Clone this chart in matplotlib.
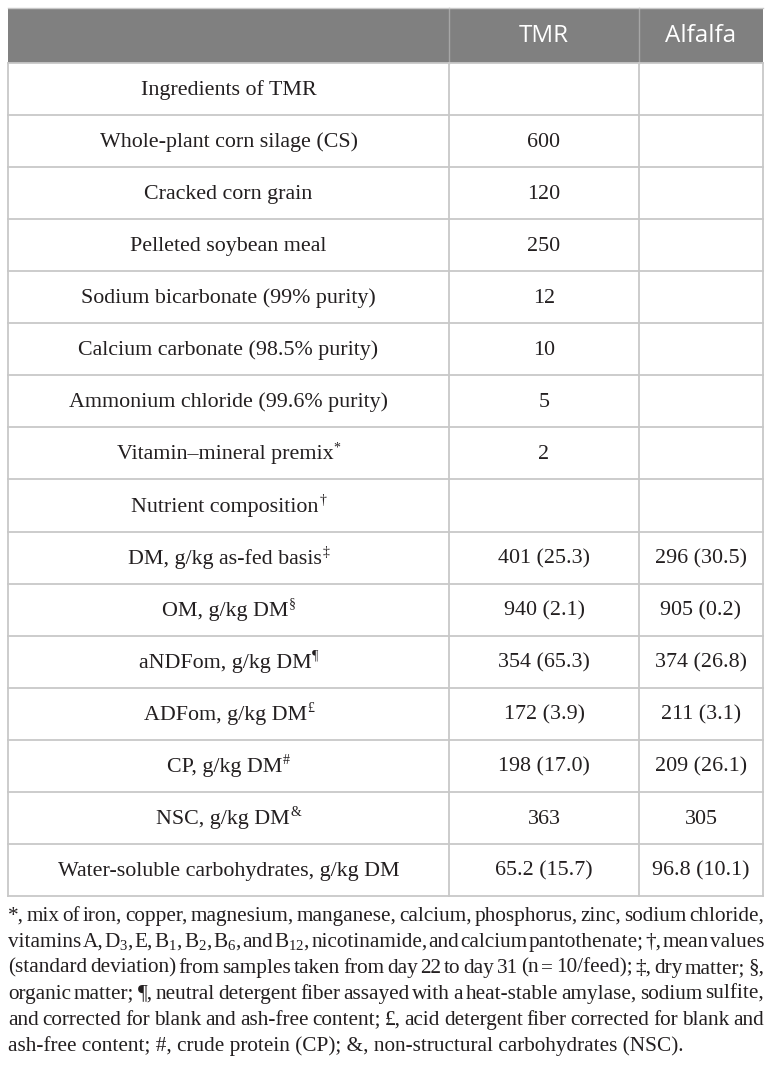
import matplotlib
matplotlib.use("Agg")
import matplotlib.pyplot as plt
from matplotlib.patches import Rectangle

# table content
row_labels = [
    "Ingredients of TMR",
    "Whole-plant corn silage (CS)",
    "Cracked corn grain",
    "Pelleted soybean meal",
    "Sodium bicarbonate (99% purity)",
    "Calcium carbonate (98.5% purity)",
    "Ammonium chloride (99.6% purity)",
    "Vitamin\u2013mineral premix",
    "Nutrient composition",
    "DM, g/kg as-fed basis",
    "OM, g/kg DM",
    "aNDFom, g/kg DM",
    "ADFom, g/kg DM",
    "CP, g/kg DM",
    "NSC, g/kg DM",
    "Water-soluble carbohydrates, g/kg DM",
]
label_sups = ["", "", "", "", "", "", "", "*", "\u2020", "\u2021", "\u00a7", "\u00b6",
              "\u00a3", "#", "&", ""]
tmr_values = ["", "600", "120", "250", "12", "10", "5", "2", "",
              "401 (25.3)", "940 (2.1)", "354 (65.3)", "172 (3.9)", "198 (17.0)",
              "363", "65.2 (15.7)"]
alfalfa_values = ["", "", "", "", "", "", "", "", "",
                  "296 (30.5)", "905 (0.2)", "374 (26.8)", "211 (3.1)", "209 (26.1)",
                  "305", "96.8 (10.1)"]
col_headers = ["", "TMR", "Alfalfa"]

footnote_lines = [
    "*, mix of iron, copper, magnesium, manganese, calcium, phosphorus, zinc, sodium chloride,",
    "vitamins A, D$_3$, E, B$_1$, B$_2$, B$_6$, and B$_{12}$, nicotinamide, and calcium pantothenate; \u2020, mean values",
    "(standard deviation) from samples taken from day 22 to day 31 (n = 10/feed); \u2021, dry matter; \u00a7,",
    "organic matter; \u00b6, neutral detergent fiber assayed with a heat-stable amylase, sodium sulfite,",
    "and corrected for blank and ash-free content; \u00a3, acid detergent fiber corrected for blank and",
    "ash-free content; #, crude protein (CP); &, non-structural carbohydrates (NSC).",
]

plt.rcParams['mathtext.fontset'] = 'custom'
plt.rcParams['mathtext.rm'] = 'Liberation Serif'
plt.rcParams['mathtext.it'] = 'Liberation Serif:italic'

serif = 'Liberation Serif'
sans = 'Open Sans'
txt_color = '#231f20'
grid_color = '#c8c8c8'
head_color = '#808080'
body_size = 15.8
foot_size = 15.3
sup_size = 10

W, H = 772, 1070
fig = plt.figure(figsize=(W / 100, H / 100), dpi=100)
ax = fig.add_axes([0, 0, 1, 1])
ax.set_xlim(0, W)
ax.set_ylim(H, 0)
ax.axis('off')
renderer = fig.canvas.get_renderer()

left, right = 8, 763
col_x = [left, 449, 639, right]
head_top, head_bot = 8, 63
row_h = 52.06
n_rows = len(row_labels)
table_bot = head_bot + n_rows * row_h

# header band
ax.add_patch(Rectangle((left, head_top), right - left, head_bot - head_top,
                       facecolor=head_color, edgecolor='none'))
for x in col_x[1:-1]:
    ax.plot([x, x], [head_top, head_bot], color='#a6a6a6', lw=1.0)
for j, h in enumerate(col_headers):
    if h:
        ax.text((col_x[j] + col_x[j + 1]) / 2, (head_top + head_bot) / 2 + 1, h,
                fontfamily=sans, fontsize=17.5, color='white', ha='center', va='center')

# grid
for i in range(n_rows + 1):
    y = head_bot + i * row_h
    ax.plot([left, right], [y, y], color=grid_color, lw=1.3)
for x in col_x:
    ax.plot([x, x], [head_bot, table_bot], color=grid_color, lw=1.3)
ax.plot([left, right], [head_top, head_top], color=grid_color, lw=1.0)


def centered_with_sup(cx, base_y, main, sup):
    t = ax.text(cx, base_y, main, fontfamily=serif, fontsize=body_size,
                color=txt_color, ha='left', va='baseline')
    if not sup:
        t.set_ha('center')
        return
    w_main = t.get_window_extent(renderer).width
    s = ax.text(0, base_y - 8, sup, fontfamily=serif, fontsize=sup_size,
                color=txt_color, ha='left', va='baseline')
    w_sup = s.get_window_extent(renderer).width
    x0 = cx - (w_main + w_sup) / 2
    t.set_x(x0)
    s.set_x(x0 + w_main + 0.5)


for i in range(n_rows):
    base_y = head_bot + i * row_h + row_h / 2 + 6
    centered_with_sup((col_x[0] + col_x[1]) / 2, base_y, row_labels[i], label_sups[i])
    if tmr_values[i]:
        centered_with_sup((col_x[1] + col_x[2]) / 2, base_y, tmr_values[i], "")
    if alfalfa_values[i]:
        centered_with_sup((col_x[2] + col_x[3]) / 2, base_y, alfalfa_values[i], "")

# justified footnote
foot_left, foot_right = 8, 764
foot_base0 = 921
foot_step = 25.9
for k, line in enumerate(footnote_lines):
    y = foot_base0 + k * foot_step
    if k == len(footnote_lines) - 1:
        ax.text(foot_left, y, line, fontfamily=serif, fontsize=foot_size,
                color=txt_color, ha='left', va='baseline')
        continue
    words = line.split(' ')
    texts = [ax.text(0, y, w, fontfamily=serif, fontsize=foot_size,
                     color=txt_color, ha='left', va='baseline') for w in words]
    widths = [t.get_window_extent(renderer).width for t in texts]
    gap = (foot_right - foot_left - sum(widths)) / (len(words) - 1)
    x = foot_left
    for t, w in zip(texts, widths):
        t.set_x(x)
        x += w + gap

plt.savefig('out.png', dpi=100, facecolor='white')
